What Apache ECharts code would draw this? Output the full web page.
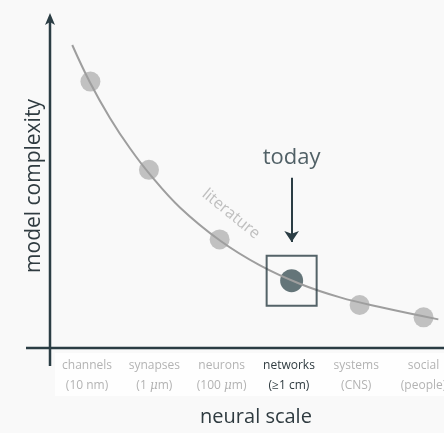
<!DOCTYPE html>
<html>
<head>
<meta charset="utf-8">
<script src="https://cdn.jsdelivr.net/npm/echarts@6/dist/echarts.min.js"></script>
<style>
html,body{margin:0;padding:0;background:#f9f9f9;}
#chart{width:444px;height:433px;}
</style>
</head>
<body>
<div id="chart"></div>
<script>
const categories = ['channels', 'synapses', 'neurons', 'networks', 'systems', 'social'];
const subLabels = ['(10 nm)', '(1 μm)', '(100 μm)', '(≥1 cm)', '(CNS)', '(people)'];
const highlightIndex = 3;
const pointX = [0.05, 0.92, 1.97, 3.04, 4.05, 5.0];
const pointY = [80.0, 53.5, 32.6, 20.2, 12.9, 9.2];
const curveX = [-0.22, 0.04, 0.34, 0.64, 0.94, 1.38, 1.98, 2.57, 3.16, 3.76, 4.35, 5.22];
const curveY = [91.0, 79.9, 69.1, 59.9, 52.0, 42.2, 32.2, 24.8, 19.3, 15.2, 12.3, 8.6];
const todayLabel = 'today';
const todayArrow = { from: 51.1, to: 31.8, textY: 57.1 };
const curveLabel = 'literature';
const xTitle = 'neural scale';
const yTitle = 'model complexity';

const dark = '#2b3d44';
const font = '"Open Sans", "Noto Sans", sans-serif';

const grayPts = [], hiPts = [];
pointX.forEach((x, i) => { (i === highlightIndex ? hiPts : grayPts).push([x, pointY[i]]); });

const chart = echarts.init(document.getElementById('chart'), null, { renderer: 'canvas' });
chart.setOption({
  backgroundColor: '#f9f9f9',
  animation: false,
  grid: { left: 53.4, width: 403.8, top: 15, bottom: 85, outerBoundsMode: 'none', containLabel: false },
  xAxis: [
    {
      type: 'category', data: categories, boundaryGap: true,
      axisLine: { show: false }, axisTick: { show: false }, splitLine: { show: false },
      axisLabel: {
        margin: 8, interval: 0, hideOverlap: false,
        formatter: (v, i) => {
          const st = i === highlightIndex ? 'h' : 'n';
          const sub = subLabels[i].replace('μ', '{' + st + 'i|μ}');
          const parts = sub.split(/(\{[a-z]+\|μ\})/);
          const line2 = parts.map(p => p.startsWith('{') ? p : (p ? '{' + st + '|' + p + '}' : '')).join('');
          return '{' + st + '|' + v + '}\n' + line2;
        },
        rich: {
          n: { color: '#b3b3b3', fontSize: 12, fontFamily: font, lineHeight: 20 },
          ni: { color: '#b3b3b3', fontSize: 12, fontFamily: 'DejaVu Serif, serif', fontStyle: 'italic', lineHeight: 20 },
          h: { color: '#2f3b40', fontSize: 12, fontFamily: font, lineHeight: 20 },
          hi: { color: '#2f3b40', fontSize: 12, fontFamily: 'DejaVu Serif, serif', fontStyle: 'italic', lineHeight: 20 }
        }
      }
    },
    {
      type: 'value', min: -0.5, max: 5.5, show: false
    }
  ],
  yAxis: { type: 'value', min: 0, max: 100, show: false },
  graphic: [
    { type: 'rect', z: -1, shape: { x: 55, y: 353, width: 395, height: 43 }, style: { fill: '#ffffff', opacity: 0.8 } },
    { type: 'line', shape: { x1: 26, y1: 348, x2: 444, y2: 348 }, style: { stroke: dark, lineWidth: 2.5 } },
    { type: 'line', shape: { x1: 50, y1: 366, x2: 50, y2: 20 }, style: { stroke: dark, lineWidth: 2.5 } },
    { type: 'polygon', shape: { points: [[50, 13], [45, 25], [50, 22], [55, 25]] }, style: { fill: dark } },
    { type: 'text', x: 256, y: 417, style: { text: xTitle, font: '20px ' + font, fill: '#2f3b40', align: 'center', verticalAlign: 'middle' } },
    { type: 'text', x: 34, y: 186, rotation: Math.PI / 2, style: { text: yTitle, font: '21px ' + font, fill: '#2f3b40', align: 'center', verticalAlign: 'middle' } },
    { type: 'text', x: 231, y: 214, rotation: -0.68, style: { text: curveLabel, font: '16px ' + font, fill: '#bfbfbf', align: 'center', verticalAlign: 'middle' } }
  ],
  series: [
    {
      type: 'scatter', xAxisIndex: 1, data: grayPts, symbolSize: 20, z: 2,
      itemStyle: { color: '#b3b3b3' }
    },
    {
      type: 'scatter', xAxisIndex: 1, data: hiPts, symbolSize: 23, z: 2,
      itemStyle: { color: '#3f5459' }
    },
    {
      type: 'line', xAxisIndex: 1, data: curveX.map((x, i) => [x, curveY[i]]),
      smooth: 0.4, showSymbol: false, z: 3,
      lineStyle: { color: '#9e9e9e', width: 2 }
    },
    {
      type: 'scatter', xAxisIndex: 1, data: hiPts, symbol: 'rect', symbolSize: 50, z: 4,
      itemStyle: { color: 'rgba(0,0,0,0)', borderColor: dark, borderWidth: 2 },
      markLine: {
        silent: true, symbol: ['none', 'arrow'], symbolSize: 11,
        lineStyle: { color: dark, width: 2, type: 'solid' }, label: { show: false },
        data: [[{ coord: [pointX[highlightIndex], todayArrow.from] }, { coord: [pointX[highlightIndex], todayArrow.to] }]]
      }
    },
    {
      type: 'scatter', xAxisIndex: 1, data: [[pointX[highlightIndex], todayArrow.textY]], symbolSize: 0,
      label: { show: true, position: 'inside', formatter: todayLabel, color: '#263a41', fontSize: 22, fontFamily: font }
    }
  ]
});
</script>
</body>
</html>
